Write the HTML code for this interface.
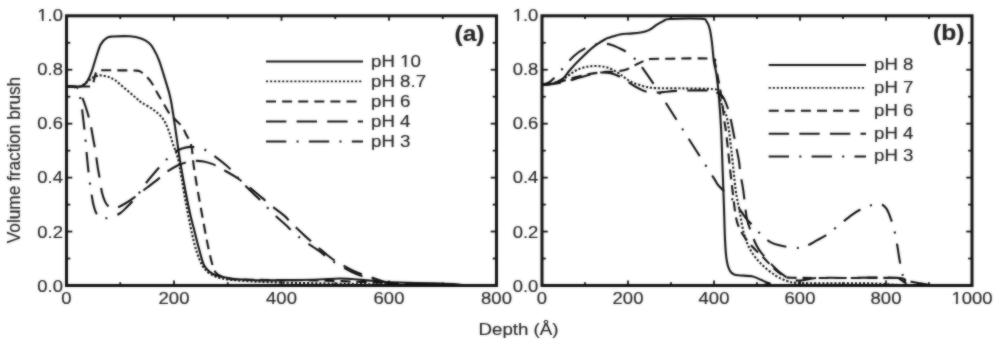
<!DOCTYPE html>
<html><head><meta charset="utf-8"><title>Volume fraction brush vs depth</title>
<style>
html,body{margin:0;padding:0;background:#fff;}
body{width:1000px;height:345px;overflow:hidden;font-family:"Liberation Sans",sans-serif;}
svg{display:block;}
</style></head><body><div id="w">
<svg width="1000" height="345" viewBox="0 0 1000 345" font-family="Liberation Sans, sans-serif"><defs><filter id="soft" x="0" y="0" width="1000" height="345" filterUnits="userSpaceOnUse" color-interpolation-filters="sRGB"><feGaussianBlur in="SourceGraphic" stdDeviation="1.00" result="b"/><feComposite in="SourceGraphic" in2="b" operator="arithmetic" k1="0" k2="0.45" k3="0.55" k4="0"/></filter><clipPath id="cl"><rect x="66.5" y="15.8" width="430" height="269.7"/></clipPath><clipPath id="cr"><rect x="542" y="15.8" width="430" height="269.7"/></clipPath></defs><g filter="url(#soft)"><rect x="0" y="0" width="1000" height="345" fill="#fff"/><g clip-path="url(#cl)" stroke-linecap="butt"><path id="l10" d="M66.50,86.46 C68.29,86.46 74.56,86.55 77.25,86.46 C79.94,86.37 80.97,86.78 82.62,85.92 C84.28,85.07 85.67,83.76 87.19,81.34 C88.72,78.91 90.19,75.63 91.76,71.36 C93.33,67.09 95.08,60.26 96.60,55.72 C98.12,51.18 99.20,47.09 100.90,44.12 C102.60,41.15 104.84,39.17 106.81,37.92 C108.78,36.66 108.87,36.84 112.72,36.57 C116.58,36.30 125.09,35.94 129.93,36.30 C134.76,36.66 138.61,37.65 141.75,38.72 C144.89,39.80 146.81,41.15 148.74,42.77 C150.66,44.39 151.60,45.56 153.31,48.43 C155.01,51.31 157.02,55.00 158.95,60.03 C160.88,65.07 162.89,72.03 164.86,78.64 C166.83,85.25 168.83,89.97 170.77,99.68 C172.72,109.39 175.00,126.83 176.53,136.90 C178.05,146.96 178.45,151.19 179.91,160.09 C181.37,168.99 183.59,181.31 185.29,190.30 C186.99,199.29 188.69,207.60 190.12,214.03 C191.56,220.46 192.45,223.24 193.89,228.86 C195.32,234.48 197.02,241.67 198.72,247.74 C200.43,253.81 201.77,260.91 204.10,265.27 C206.43,269.63 209.21,271.88 212.70,273.90 C216.19,275.93 220.14,276.47 225.06,277.41 C229.99,278.35 236.44,279.07 242.26,279.57 C248.09,280.06 251.67,280.29 260.00,280.38 C268.33,280.47 282.40,280.24 292.25,280.11 C302.10,279.97 311.06,279.84 319.12,279.57 C327.19,279.30 333.46,278.44 340.62,278.49 C347.79,278.53 354.96,279.30 362.12,279.84 C369.29,280.38 377.35,281.27 383.62,281.72 C389.90,282.17 391.69,282.26 399.75,282.53 C407.81,282.80 423.04,283.07 432.00,283.34 C440.96,283.61 447.23,283.79 453.50,284.15 C459.77,284.51 462.46,285.28 469.62,285.50 C476.79,285.72 492.02,285.50 496.50,285.50" fill="none" stroke="#111" stroke-width="2.10" /><path id="l87" d="M66.50,86.46 C68.74,86.46 76.35,87.36 79.94,86.46 C83.52,85.56 85.49,82.73 88.00,81.07 C90.51,79.40 92.84,77.43 94.99,76.48 C97.14,75.54 98.75,75.36 100.90,75.40 C103.05,75.45 105.56,75.99 107.89,76.75 C110.22,77.52 112.55,78.46 114.88,79.99 C117.20,81.52 119.35,83.81 121.86,85.92 C124.37,88.03 127.55,90.64 129.93,92.66 C132.30,94.69 134.14,96.40 136.11,98.06 C138.08,99.72 138.88,100.71 141.75,102.64 C144.62,104.58 149.83,107.05 153.31,109.66 C156.78,112.26 160.09,114.91 162.61,118.29 C165.12,121.66 166.69,125.61 168.41,129.88 C170.13,134.15 171.37,139.28 172.93,143.91 C174.48,148.54 176.33,152.04 177.76,157.66 C179.20,163.28 180.13,169.80 181.52,177.62 C182.92,185.44 184.38,195.15 186.15,204.59 C187.91,214.03 190.29,226.17 192.11,234.26 C193.94,242.35 195.29,247.74 197.11,253.14 C198.93,258.53 200.88,263.20 203.03,266.62 C205.18,270.04 207.15,271.75 210.01,273.63 C212.88,275.52 215.21,276.78 220.22,277.95 C225.24,279.12 230.08,279.88 240.11,280.65 C250.15,281.41 264.57,282.04 280.42,282.53 C296.28,283.03 318.95,283.30 335.25,283.61 C351.55,283.93 365.71,284.15 378.25,284.42 C390.79,284.69 390.79,285.05 410.50,285.23 C430.21,285.41 482.17,285.46 496.50,285.50" fill="none" stroke="#111" stroke-width="2.10" stroke-dasharray="2.1 1.95"/><path id="l6" d="M66.50,86.46 C68.74,86.46 76.00,86.46 79.94,86.46 C83.88,86.46 88.04,86.69 90.15,86.46 C92.26,86.24 91.90,86.33 92.57,85.11 C93.24,83.90 93.64,81.16 94.18,79.18 C94.72,77.20 95.12,74.68 95.79,73.25 C96.47,71.81 96.82,71.04 98.21,70.55 C99.60,70.05 98.21,70.28 104.12,70.28 C110.04,70.28 127.63,70.32 133.69,70.55 C139.74,70.77 138.16,70.46 140.46,71.63 C142.76,72.80 145.36,75.27 147.50,77.56 C149.64,79.85 151.58,82.64 153.31,85.38 C155.04,88.12 156.22,91.09 157.88,94.01 C159.53,96.93 161.28,99.59 163.25,102.91 C165.22,106.24 167.55,111.05 169.70,113.97 C171.85,116.89 174.04,118.29 176.15,120.44 C178.26,122.60 180.77,124.67 182.38,126.92 C184.00,129.16 184.67,131.68 185.82,133.93 C186.98,136.18 188.35,138.20 189.32,140.40 C190.29,142.60 191.05,144.27 191.63,147.14 C192.21,150.02 192.44,154.34 192.81,157.66 C193.19,160.99 193.10,161.80 193.89,167.10 C194.68,172.41 195.70,178.92 197.54,189.49 C199.39,200.05 203.06,220.32 204.96,230.48 C206.86,240.64 207.49,244.06 208.94,250.44 C210.39,256.82 212.14,264.73 213.67,268.78 C215.19,272.82 216.18,273.27 218.07,274.71 C219.97,276.15 221.39,276.60 225.06,277.41 C228.74,278.22 225.60,279.07 240.11,279.57 C254.62,280.06 293.77,280.06 312.14,280.38 C330.50,280.69 335.61,280.92 350.30,281.45 C364.99,281.99 386.67,282.98 400.29,283.61 C413.90,284.24 415.96,284.92 432.00,285.23 C448.04,285.54 485.75,285.46 496.50,285.50" fill="none" stroke="#111" stroke-width="2.10" stroke-dasharray="10 6.1" stroke-dashoffset="2.55"/><path id="l4" d="M66.50,86.46 C67.66,86.46 71.79,86.33 73.49,86.46 C75.19,86.60 75.73,86.55 76.71,87.27 C77.70,87.99 78.50,89.16 79.40,90.78 C80.30,92.39 81.03,94.28 82.09,96.98 C83.14,99.68 84.58,103.41 85.74,106.96 C86.91,110.51 88.16,114.82 89.08,118.29 C89.99,121.75 90.51,124.13 91.22,127.73 C91.94,131.32 92.66,135.91 93.38,139.86 C94.09,143.82 94.81,146.96 95.53,151.46 C96.24,155.95 96.92,162.02 97.67,166.83 C98.43,171.64 99.32,176.05 100.04,180.32 C100.76,184.59 101.11,188.86 101.97,192.45 C102.83,196.05 104.04,199.51 105.20,201.89 C106.36,204.28 107.71,205.71 108.96,206.75 C110.22,207.78 111.24,208.01 112.72,208.10 C114.21,208.19 115.73,208.10 117.88,207.29 C120.03,206.48 122.99,204.81 125.62,203.24 C128.26,201.67 131.00,199.78 133.69,197.85 C136.38,195.91 137.93,194.57 141.75,191.64 C145.57,188.72 152.55,183.51 156.58,180.32 C160.62,177.13 162.44,174.97 165.94,172.50 C169.43,170.02 173.96,167.24 177.55,165.48 C181.13,163.73 184.45,162.74 187.44,161.98 C190.43,161.21 192.81,160.99 195.50,160.90 C198.19,160.81 200.70,160.90 203.56,161.44 C206.43,161.98 209.65,162.88 212.70,164.13 C215.75,165.39 217.45,166.47 221.84,168.99 C226.23,171.51 232.32,174.43 239.04,179.24 C245.76,184.05 256.95,193.58 262.15,197.85 C267.35,202.12 266.54,201.89 270.21,204.86 C273.89,207.83 280.69,212.64 284.19,215.65 C287.68,218.66 287.68,219.51 291.17,222.93 C294.67,226.35 300.49,231.92 305.15,236.14 C309.81,240.37 315.45,245.13 319.12,248.28 C322.80,251.43 324.41,252.87 327.19,255.02 C329.96,257.18 331.49,258.62 335.79,261.23 C340.09,263.83 348.42,268.42 352.99,270.67 C357.56,272.91 358.27,272.96 363.20,274.71 C368.13,276.47 378.25,279.79 382.55,281.18 C386.85,282.58 386.13,282.49 389.00,283.07 C391.87,283.66 395.27,284.29 399.75,284.69 C404.23,285.10 399.75,285.37 415.88,285.50 C432.00,285.63 483.06,285.50 496.50,285.50" fill="none" stroke="#111" stroke-width="2.10" stroke-dasharray="20.4 10.2" stroke-dashoffset="8.00"/><path id="l3" d="M66.50,86.46 C67.49,86.46 70.98,86.28 72.41,86.46 C73.85,86.64 74.20,86.73 75.10,87.54 C76.00,88.35 76.94,89.56 77.79,91.32 C78.64,93.07 79.53,95.36 80.21,98.06 C80.88,100.76 81.33,104.13 81.82,107.50 C82.31,110.87 82.71,114.47 83.16,118.29 C83.61,122.11 84.08,126.38 84.51,130.42 C84.94,134.47 85.34,138.29 85.74,142.56 C86.15,146.83 86.50,151.55 86.92,156.04 C87.35,160.54 87.78,165.03 88.27,169.53 C88.76,174.02 89.34,178.97 89.88,183.01 C90.42,187.06 90.91,190.21 91.49,193.80 C92.08,197.40 92.61,201.44 93.38,204.59 C94.14,207.74 94.99,210.57 96.06,212.68 C97.14,214.79 98.48,216.32 99.82,217.27 C101.17,218.21 102.33,218.34 104.12,218.34 C105.92,218.34 107.98,218.07 110.57,217.27 C113.17,216.46 117.03,215.15 119.71,213.49 C122.40,211.83 124.37,209.58 126.70,207.29 C129.03,204.99 131.56,202.21 133.69,199.74 C135.82,197.26 137.43,195.24 139.49,192.45 C141.55,189.67 143.08,186.83 146.05,183.01 C149.02,179.19 154.11,173.26 157.34,169.53 C160.56,165.80 162.62,163.46 165.40,160.63 C168.18,157.80 171.22,154.56 174.00,152.54 C176.78,150.52 179.32,149.44 182.06,148.49 C184.80,147.55 187.04,146.83 190.45,146.87 C193.85,146.92 198.78,147.41 202.49,148.76 C206.20,150.11 208.61,152.09 212.70,154.97 C216.78,157.84 223.25,162.79 227.00,166.02 C230.74,169.26 232.80,171.78 235.17,174.38 C237.53,176.99 238.21,178.52 241.19,181.67 C244.16,184.81 249.52,189.89 253.01,193.26 C256.51,196.63 258.94,198.66 262.15,201.89 C265.36,205.13 268.40,208.91 272.25,212.68 C276.11,216.46 281.75,221.31 285.26,224.55 C288.77,227.78 290.37,229.49 293.32,232.10 C296.28,234.71 298.70,237.04 303.00,240.19 C307.30,243.34 315.09,248.10 319.12,250.98 C323.16,253.86 324.41,255.43 327.19,257.45 C329.96,259.47 331.49,260.60 335.79,263.11 C340.09,265.63 348.45,270.35 352.99,272.55 C357.53,274.76 359.37,275.16 363.04,276.33 C366.71,277.50 371.81,278.67 375.02,279.57 C378.24,280.47 379.83,281.05 382.33,281.72 C384.84,282.40 386.72,283.03 390.07,283.61 C393.43,284.20 397.24,284.92 402.44,285.23 C407.63,285.54 405.57,285.46 421.25,285.50 C436.93,285.54 483.96,285.50 496.50,285.50" fill="none" stroke="#111" stroke-width="2.10" stroke-dasharray="20.3 10.3 2 10.3" stroke-dashoffset="10.75"/></g><g clip-path="url(#cr)" stroke-linecap="butt"><path id="r8" d="M542.00,84.84 C543.08,84.80 546.46,84.84 548.45,84.57 C550.44,84.30 551.45,84.26 553.91,83.23 C556.37,82.19 560.53,80.57 563.20,78.37 C565.87,76.17 566.89,73.43 569.95,70.01 C573.01,66.59 577.69,61.69 581.56,57.87 C585.43,54.05 589.30,50.14 593.17,47.09 C597.04,44.03 601.98,41.15 604.78,39.53 C607.58,37.92 607.40,38.23 609.94,37.38 C612.48,36.52 616.63,35.04 620.00,34.41 C623.37,33.78 626.77,33.91 630.15,33.60 C633.53,33.29 637.26,33.06 640.30,32.52 C643.34,31.98 645.67,31.62 648.38,30.36 C651.10,29.11 654.07,26.54 656.60,24.97 C659.12,23.40 661.28,21.91 663.52,20.92 C665.75,19.94 663.68,19.40 670.01,19.04 C676.35,18.68 695.50,18.45 701.53,18.77 C707.56,19.08 704.86,19.26 706.22,20.92 C707.58,22.59 708.74,25.10 709.70,28.75 C710.66,32.39 711.28,37.29 711.98,42.77 C712.68,48.25 713.15,56.26 713.91,61.65 C714.68,67.04 715.75,69.29 716.58,75.13 C717.41,80.98 718.14,87.50 718.90,96.71 C719.67,105.92 720.56,118.29 721.18,130.42 C721.80,142.56 722.15,157.17 722.60,169.53 C723.05,181.89 723.49,192.90 723.89,204.59 C724.29,216.28 724.58,230.66 725.01,239.65 C725.44,248.64 725.72,253.50 726.47,258.53 C727.22,263.56 728.12,267.16 729.48,269.86 C730.84,272.55 730.91,273.63 734.64,274.71 C738.37,275.79 747.47,275.48 751.84,276.33 C756.21,277.18 757.93,278.67 760.87,279.84 C763.81,281.00 765.82,282.40 769.47,283.34 C773.12,284.29 749.04,285.14 782.80,285.50 C816.55,285.86 940.47,285.50 972.00,285.50" fill="none" stroke="#111" stroke-width="2.10" /><path id="r7" d="M542.00,84.84 C543.43,84.66 547.68,84.35 550.60,83.76 C553.52,83.18 556.56,82.69 559.50,81.34 C562.44,79.99 565.34,77.56 568.23,75.67 C571.12,73.79 573.46,71.54 576.83,70.01 C580.20,68.48 584.57,67.13 588.44,66.50 C592.31,65.87 596.68,66.01 600.05,66.23 C603.42,66.46 605.74,66.82 608.65,67.85 C611.56,68.89 615.00,70.91 617.51,72.44 C620.02,73.97 621.40,75.45 623.70,77.02 C626.00,78.60 628.01,80.35 631.31,81.88 C634.61,83.40 639.42,85.16 643.48,86.19 C647.54,87.23 648.96,87.72 655.69,88.08 C662.43,88.44 674.35,88.17 683.90,88.35 C693.45,88.53 707.56,88.62 713.01,89.16 C718.46,89.70 715.41,89.88 716.58,91.59 C717.75,93.29 718.87,96.40 720.02,99.41 C721.17,102.42 722.24,106.28 723.46,109.66 C724.68,113.03 725.97,112.53 727.33,119.63 C728.69,126.74 730.23,140.54 731.63,152.27 C733.03,164.00 734.35,180.09 735.72,190.03 C737.08,199.96 738.42,204.55 739.80,211.87 C741.18,219.20 742.18,227.51 744.01,233.99 C745.85,240.46 747.86,245.63 750.81,250.71 C753.76,255.79 757.62,260.33 761.73,264.46 C765.84,268.60 771.33,272.78 775.49,275.52 C779.65,278.26 783.30,279.70 786.67,280.92 C790.04,282.13 790.61,282.40 795.70,282.80 C800.79,283.21 805.02,283.25 817.20,283.34 C829.38,283.43 855.04,283.07 868.80,283.34 C882.56,283.61 891.16,284.60 899.76,284.96 C908.36,285.32 908.36,285.41 920.40,285.50 C932.44,285.59 963.40,285.50 972.00,285.50" fill="none" stroke="#111" stroke-width="2.10" stroke-dasharray="2.1 1.95"/><path id="r6" d="M542.00,84.84 C544.15,84.57 550.60,84.12 554.90,83.23 C559.20,82.33 562.78,80.84 567.80,79.45 C572.82,78.06 579.98,75.99 585.00,74.86 C590.02,73.74 594.32,73.20 597.90,72.71 C601.48,72.21 603.27,72.12 606.50,71.90 C609.73,71.67 613.70,71.85 617.25,71.36 C620.80,70.86 624.57,70.10 627.78,68.93 C631.00,67.76 633.90,65.65 636.51,64.35 C639.13,63.04 641.17,62.01 643.48,61.11 C645.79,60.21 645.77,59.36 650.36,58.95 C654.95,58.55 660.89,58.73 671.00,58.68 C681.11,58.64 703.68,57.96 710.99,58.68 C718.30,59.40 713.78,60.26 714.86,63.00 C715.94,65.74 716.58,70.86 717.44,75.13 C718.30,79.40 719.23,84.12 720.02,88.62 C720.81,93.11 721.42,96.58 722.17,102.10 C722.92,107.63 723.85,116.85 724.49,121.79 C725.13,126.74 725.34,126.47 726.00,131.77 C726.65,137.08 727.65,146.74 728.40,153.62 C729.16,160.49 729.81,166.74 730.51,173.04 C731.21,179.33 731.75,184.23 732.62,191.37 C733.49,198.52 734.66,209.89 735.72,215.92 C736.77,221.94 737.81,224.50 738.94,227.51 C740.07,230.53 740.53,231.07 742.51,233.99 C744.49,236.91 747.12,240.91 750.81,245.05 C754.49,249.18 760.71,254.84 764.61,258.80 C768.51,262.76 771.17,266.04 774.20,268.78 C777.23,271.52 779.93,273.77 782.80,275.25 C785.67,276.73 781.37,277.23 791.40,277.68 C801.43,278.13 825.80,277.90 843.00,277.95 C860.20,277.99 885.14,277.77 894.60,277.95 C904.06,278.13 897.97,278.22 899.76,279.03 C901.55,279.84 903.34,281.72 905.35,282.80 C907.36,283.88 900.69,285.05 911.80,285.50 C922.91,285.95 961.97,285.50 972.00,285.50" fill="none" stroke="#111" stroke-width="2.10" stroke-dasharray="10 6.1" stroke-dashoffset="1.55"/><path id="r4" d="M542.00,84.84 C544.15,84.66 550.60,84.39 554.90,83.76 C559.20,83.14 563.50,82.15 567.80,81.07 C572.10,79.99 576.40,78.51 580.70,77.29 C585.00,76.08 590.02,74.59 593.60,73.79 C597.18,72.98 599.33,72.53 602.20,72.44 C605.07,72.35 607.93,72.57 610.80,73.25 C613.67,73.92 616.53,75.04 619.40,76.48 C622.27,77.92 625.13,80.08 628.00,81.88 C630.87,83.67 633.73,85.70 636.60,87.27 C639.47,88.84 642.33,90.42 645.20,91.32 C648.07,92.22 650.93,92.53 653.80,92.66 C656.67,92.80 658.10,92.44 662.40,92.13 C666.70,91.81 672.00,91.05 679.60,90.78 C687.20,90.51 701.82,90.28 707.98,90.51 C714.14,90.73 714.18,91.18 716.58,92.13 C718.98,93.07 720.66,93.92 722.38,96.17 C724.11,98.42 725.57,102.06 726.90,105.61 C728.23,109.16 729.29,113.12 730.34,117.48 C731.39,121.84 732.36,127.46 733.22,131.77 C734.08,136.09 734.55,138.51 735.50,143.37 C736.45,148.22 738.12,155.82 738.94,160.90 C739.76,165.98 739.69,168.99 740.40,173.84 C741.12,178.70 742.19,182.74 743.24,190.03 C744.29,197.31 745.42,210.66 746.68,217.54 C747.94,224.41 749.20,226.71 750.81,231.29 C752.41,235.88 754.49,241.36 756.31,245.05 C758.13,248.73 758.75,249.72 761.73,253.41 C764.71,257.09 770.69,263.61 774.20,267.16 C777.71,270.71 780.17,272.78 782.80,274.71 C785.43,276.64 787.11,277.77 789.98,278.76 C792.85,279.75 795.46,280.78 800.00,280.65 C804.54,280.51 810.03,278.40 817.20,277.95 C824.37,277.50 829.38,277.95 843.00,277.95 C856.62,277.95 888.51,277.14 898.90,277.95 C909.29,278.76 903.20,281.54 905.35,282.80 C907.50,284.06 900.69,285.05 911.80,285.50 C922.91,285.95 961.97,285.50 972.00,285.50" fill="none" stroke="#111" stroke-width="2.10" stroke-dasharray="20.4 10.2" stroke-dashoffset="1.50"/><path id="r3" d="M542.00,84.84 C543.08,84.48 546.30,83.94 548.45,82.69 C550.60,81.43 552.39,79.81 554.90,77.29 C557.41,74.77 560.27,71.18 563.50,67.58 C566.73,63.99 570.67,58.91 574.25,55.72 C577.83,52.52 581.42,50.32 585.00,48.43 C588.58,46.55 592.88,45.20 595.75,44.39 C598.62,43.58 599.69,43.53 602.20,43.58 C604.71,43.62 607.86,43.85 610.80,44.66 C613.74,45.47 616.96,47.04 619.83,48.43 C622.70,49.83 625.21,51.00 628.00,53.02 C630.79,55.04 634.16,58.05 636.60,60.57 C639.04,63.09 639.75,64.17 642.62,68.12 C645.49,72.08 649.79,78.28 653.80,84.30 C657.81,90.33 662.19,97.20 666.70,104.26 C671.22,111.32 675.87,118.78 680.89,126.65 C685.91,134.51 691.28,142.83 696.80,151.46 C702.32,160.09 710.27,172.63 714.00,178.43 C717.73,184.23 715.93,182.56 719.16,186.25 C722.38,189.94 728.91,195.24 733.35,200.54 C737.79,205.85 742.38,213.71 745.82,218.07 C749.26,222.44 751.27,223.74 753.99,226.71 C756.71,229.67 759.51,233.36 762.16,235.88 C764.81,238.39 767.03,240.24 769.90,241.81 C772.77,243.38 775.20,244.33 779.36,245.31 C783.52,246.30 790.68,247.47 794.84,247.74 C799.00,248.01 800.57,248.19 804.30,246.93 C808.03,245.67 813.33,242.30 817.20,240.19 C821.07,238.08 824.44,236.32 827.52,234.26 C830.60,232.19 831.68,230.98 835.69,227.78 C839.70,224.59 847.37,218.21 851.60,215.11 C855.83,212.01 857.91,210.79 861.06,209.17 C864.21,207.56 867.37,206.30 870.52,205.40 C873.67,204.50 877.33,203.24 879.98,203.78 C882.63,204.32 884.57,205.98 886.43,208.64 C888.29,211.29 889.80,215.87 891.16,219.69 C892.52,223.51 893.60,227.33 894.60,231.56 C895.60,235.79 896.39,240.55 897.18,245.05 C897.97,249.54 898.54,254.03 899.33,258.53 C900.12,263.02 901.12,268.73 901.91,272.01 C902.70,275.30 903.13,276.78 904.06,278.22 C904.99,279.66 905.85,279.97 907.50,280.65 C909.15,281.32 911.80,281.81 913.95,282.26 C916.10,282.71 918.03,282.94 920.40,283.34 C922.76,283.75 925.63,284.33 928.14,284.69 C930.65,285.05 928.14,285.37 935.45,285.50 C942.76,285.63 965.91,285.50 972.00,285.50" fill="none" stroke="#111" stroke-width="2.10" stroke-dasharray="20.3 10.3 2 10.3" stroke-dashoffset="5.60"/></g><rect x="66.50" y="15.80" width="430.00" height="269.70" fill="none" stroke="#111" stroke-width="3.0"/><line x1="120.25" y1="285.50" x2="120.25" y2="282.30" stroke="#111" stroke-width="1.8"/><line x1="120.25" y1="15.80" x2="120.25" y2="19.00" stroke="#111" stroke-width="1.8"/><line x1="174.00" y1="285.50" x2="174.00" y2="280.50" stroke="#111" stroke-width="1.8"/><line x1="174.00" y1="15.80" x2="174.00" y2="20.80" stroke="#111" stroke-width="1.8"/><line x1="227.75" y1="285.50" x2="227.75" y2="282.30" stroke="#111" stroke-width="1.8"/><line x1="227.75" y1="15.80" x2="227.75" y2="19.00" stroke="#111" stroke-width="1.8"/><line x1="281.50" y1="285.50" x2="281.50" y2="280.50" stroke="#111" stroke-width="1.8"/><line x1="281.50" y1="15.80" x2="281.50" y2="20.80" stroke="#111" stroke-width="1.8"/><line x1="335.25" y1="285.50" x2="335.25" y2="282.30" stroke="#111" stroke-width="1.8"/><line x1="335.25" y1="15.80" x2="335.25" y2="19.00" stroke="#111" stroke-width="1.8"/><line x1="389.00" y1="285.50" x2="389.00" y2="280.50" stroke="#111" stroke-width="1.8"/><line x1="389.00" y1="15.80" x2="389.00" y2="20.80" stroke="#111" stroke-width="1.8"/><line x1="442.75" y1="285.50" x2="442.75" y2="282.30" stroke="#111" stroke-width="1.8"/><line x1="442.75" y1="15.80" x2="442.75" y2="19.00" stroke="#111" stroke-width="1.8"/><line x1="66.50" y1="258.53" x2="70.30" y2="258.53" stroke="#111" stroke-width="1.8"/><line x1="496.50" y1="258.53" x2="492.70" y2="258.53" stroke="#111" stroke-width="1.8"/><line x1="66.50" y1="231.56" x2="72.30" y2="231.56" stroke="#111" stroke-width="1.8"/><line x1="496.50" y1="231.56" x2="490.70" y2="231.56" stroke="#111" stroke-width="1.8"/><line x1="66.50" y1="204.59" x2="70.30" y2="204.59" stroke="#111" stroke-width="1.8"/><line x1="496.50" y1="204.59" x2="492.70" y2="204.59" stroke="#111" stroke-width="1.8"/><line x1="66.50" y1="177.62" x2="72.30" y2="177.62" stroke="#111" stroke-width="1.8"/><line x1="496.50" y1="177.62" x2="490.70" y2="177.62" stroke="#111" stroke-width="1.8"/><line x1="66.50" y1="150.65" x2="70.30" y2="150.65" stroke="#111" stroke-width="1.8"/><line x1="496.50" y1="150.65" x2="492.70" y2="150.65" stroke="#111" stroke-width="1.8"/><line x1="66.50" y1="123.68" x2="72.30" y2="123.68" stroke="#111" stroke-width="1.8"/><line x1="496.50" y1="123.68" x2="490.70" y2="123.68" stroke="#111" stroke-width="1.8"/><line x1="66.50" y1="96.71" x2="70.30" y2="96.71" stroke="#111" stroke-width="1.8"/><line x1="496.50" y1="96.71" x2="492.70" y2="96.71" stroke="#111" stroke-width="1.8"/><line x1="66.50" y1="69.74" x2="72.30" y2="69.74" stroke="#111" stroke-width="1.8"/><line x1="496.50" y1="69.74" x2="490.70" y2="69.74" stroke="#111" stroke-width="1.8"/><line x1="66.50" y1="42.77" x2="70.30" y2="42.77" stroke="#111" stroke-width="1.8"/><line x1="496.50" y1="42.77" x2="492.70" y2="42.77" stroke="#111" stroke-width="1.8"/><rect x="542.00" y="15.80" width="430.00" height="269.70" fill="none" stroke="#111" stroke-width="3.0"/><line x1="585.00" y1="285.50" x2="585.00" y2="282.30" stroke="#111" stroke-width="1.8"/><line x1="585.00" y1="15.80" x2="585.00" y2="19.00" stroke="#111" stroke-width="1.8"/><line x1="628.00" y1="285.50" x2="628.00" y2="280.50" stroke="#111" stroke-width="1.8"/><line x1="628.00" y1="15.80" x2="628.00" y2="20.80" stroke="#111" stroke-width="1.8"/><line x1="671.00" y1="285.50" x2="671.00" y2="282.30" stroke="#111" stroke-width="1.8"/><line x1="671.00" y1="15.80" x2="671.00" y2="19.00" stroke="#111" stroke-width="1.8"/><line x1="714.00" y1="285.50" x2="714.00" y2="280.50" stroke="#111" stroke-width="1.8"/><line x1="714.00" y1="15.80" x2="714.00" y2="20.80" stroke="#111" stroke-width="1.8"/><line x1="757.00" y1="285.50" x2="757.00" y2="282.30" stroke="#111" stroke-width="1.8"/><line x1="757.00" y1="15.80" x2="757.00" y2="19.00" stroke="#111" stroke-width="1.8"/><line x1="800.00" y1="285.50" x2="800.00" y2="280.50" stroke="#111" stroke-width="1.8"/><line x1="800.00" y1="15.80" x2="800.00" y2="20.80" stroke="#111" stroke-width="1.8"/><line x1="843.00" y1="285.50" x2="843.00" y2="282.30" stroke="#111" stroke-width="1.8"/><line x1="843.00" y1="15.80" x2="843.00" y2="19.00" stroke="#111" stroke-width="1.8"/><line x1="886.00" y1="285.50" x2="886.00" y2="280.50" stroke="#111" stroke-width="1.8"/><line x1="886.00" y1="15.80" x2="886.00" y2="20.80" stroke="#111" stroke-width="1.8"/><line x1="929.00" y1="285.50" x2="929.00" y2="282.30" stroke="#111" stroke-width="1.8"/><line x1="929.00" y1="15.80" x2="929.00" y2="19.00" stroke="#111" stroke-width="1.8"/><line x1="542.00" y1="258.53" x2="545.80" y2="258.53" stroke="#111" stroke-width="1.8"/><line x1="972.00" y1="258.53" x2="968.20" y2="258.53" stroke="#111" stroke-width="1.8"/><line x1="542.00" y1="231.56" x2="547.80" y2="231.56" stroke="#111" stroke-width="1.8"/><line x1="972.00" y1="231.56" x2="966.20" y2="231.56" stroke="#111" stroke-width="1.8"/><line x1="542.00" y1="204.59" x2="545.80" y2="204.59" stroke="#111" stroke-width="1.8"/><line x1="972.00" y1="204.59" x2="968.20" y2="204.59" stroke="#111" stroke-width="1.8"/><line x1="542.00" y1="177.62" x2="547.80" y2="177.62" stroke="#111" stroke-width="1.8"/><line x1="972.00" y1="177.62" x2="966.20" y2="177.62" stroke="#111" stroke-width="1.8"/><line x1="542.00" y1="150.65" x2="545.80" y2="150.65" stroke="#111" stroke-width="1.8"/><line x1="972.00" y1="150.65" x2="968.20" y2="150.65" stroke="#111" stroke-width="1.8"/><line x1="542.00" y1="123.68" x2="547.80" y2="123.68" stroke="#111" stroke-width="1.8"/><line x1="972.00" y1="123.68" x2="966.20" y2="123.68" stroke="#111" stroke-width="1.8"/><line x1="542.00" y1="96.71" x2="545.80" y2="96.71" stroke="#111" stroke-width="1.8"/><line x1="972.00" y1="96.71" x2="968.20" y2="96.71" stroke="#111" stroke-width="1.8"/><line x1="542.00" y1="69.74" x2="547.80" y2="69.74" stroke="#111" stroke-width="1.8"/><line x1="972.00" y1="69.74" x2="966.20" y2="69.74" stroke="#111" stroke-width="1.8"/><line x1="542.00" y1="42.77" x2="545.80" y2="42.77" stroke="#111" stroke-width="1.8"/><line x1="972.00" y1="42.77" x2="968.20" y2="42.77" stroke="#111" stroke-width="1.8"/><g fill="#222" stroke="#222" stroke-width="0.15"><text transform="translate(63.00,291.75) scale(1.120,1)" text-anchor="end" font-size="16.5" >0.0</text><text transform="translate(538.30,291.75) scale(1.120,1)" text-anchor="end" font-size="16.5" >0.0</text><text transform="translate(63.00,237.53) scale(1.120,1)" text-anchor="end" font-size="16.5" >0.2</text><text transform="translate(538.30,237.53) scale(1.120,1)" text-anchor="end" font-size="16.5" >0.2</text><text transform="translate(63.00,183.31) scale(1.120,1)" text-anchor="end" font-size="16.5" >0.4</text><text transform="translate(538.30,183.31) scale(1.120,1)" text-anchor="end" font-size="16.5" >0.4</text><text transform="translate(63.00,129.09) scale(1.120,1)" text-anchor="end" font-size="16.5" >0.6</text><text transform="translate(538.30,129.09) scale(1.120,1)" text-anchor="end" font-size="16.5" >0.6</text><text transform="translate(63.00,74.87) scale(1.120,1)" text-anchor="end" font-size="16.5" >0.8</text><text transform="translate(538.30,74.87) scale(1.120,1)" text-anchor="end" font-size="16.5" >0.8</text><text transform="translate(63.00,20.65) scale(1.120,1)" text-anchor="end" font-size="16.5" >1.0</text><text transform="translate(538.30,20.65) scale(1.120,1)" text-anchor="end" font-size="16.5" >1.0</text><g transform="translate(63.00,20.65) scale(1.120,1)" fill="#fff" stroke="none"><rect x="-22.03" y="-1.73" width="3.18" height="2.15"/><rect x="-17.31" y="-1.73" width="2.97" height="2.15"/></g><g transform="translate(538.30,20.65) scale(1.120,1)" fill="#fff" stroke="none"><rect x="-22.03" y="-1.73" width="3.18" height="2.15"/><rect x="-17.31" y="-1.73" width="2.97" height="2.15"/></g><text transform="translate(66.50,304.00) scale(1.120,1)" text-anchor="middle" font-size="16.5" >0</text><text transform="translate(174.00,304.00) scale(1.120,1)" text-anchor="middle" font-size="16.5" >200</text><text transform="translate(281.50,304.00) scale(1.120,1)" text-anchor="middle" font-size="16.5" >400</text><text transform="translate(389.00,304.00) scale(1.120,1)" text-anchor="middle" font-size="16.5" >600</text><text transform="translate(496.50,304.00) scale(1.120,1)" text-anchor="middle" font-size="16.5" >800</text><text transform="translate(542.00,304.00) scale(1.120,1)" text-anchor="middle" font-size="16.5" >0</text><text transform="translate(628.00,304.00) scale(1.120,1)" text-anchor="middle" font-size="16.5" >200</text><text transform="translate(714.00,304.00) scale(1.120,1)" text-anchor="middle" font-size="16.5" >400</text><text transform="translate(800.00,304.00) scale(1.120,1)" text-anchor="middle" font-size="16.5" >600</text><text transform="translate(886.00,304.00) scale(1.120,1)" text-anchor="middle" font-size="16.5" >800</text><text transform="translate(972.00,304.00) scale(1.120,1)" text-anchor="middle" font-size="16.5" >1000</text><g transform="translate(972.00,304.00) scale(1.120,1)" fill="#fff" stroke="none"><rect x="-17.44" y="-1.73" width="3.18" height="2.15"/><rect x="-12.72" y="-1.73" width="2.97" height="2.15"/></g><text transform="translate(518.50,335.30) scale(1.100,1)" text-anchor="middle" font-size="17.0" >Depth (&#197;)</text><text transform="translate(20.3,160.0) scale(1.06,1) rotate(-90)" text-anchor="middle" font-size="17.2">Volume fraction brush</text><text transform="translate(469.50,41.20) scale(1.120,1)" text-anchor="middle" font-size="22.0" font-weight="bold" stroke-width="0.15">(a)</text><text transform="translate(948.70,39.80) scale(1.120,1)" text-anchor="middle" font-size="22.0" font-weight="bold" stroke-width="0.15">(b)</text></g><line x1="266.00" y1="61.50" x2="363.00" y2="61.50" stroke="#111" stroke-width="2.00" /><text transform="translate(371.00,67.00) scale(1.100,1)" font-size="17.0" fill="#222" stroke="#222" stroke-width="0.15">pH 10</text><line x1="266.00" y1="81.30" x2="363.00" y2="81.30" stroke="#111" stroke-width="1.80" stroke-dasharray="2.1 1.95"/><text transform="translate(371.00,86.80) scale(1.100,1)" font-size="17.0" fill="#222" stroke="#222" stroke-width="0.15">pH 8.7</text><line x1="266.00" y1="101.50" x2="362.00" y2="101.50" stroke="#111" stroke-width="2.00" stroke-dasharray="10 6.1"/><text transform="translate(371.00,107.00) scale(1.100,1)" font-size="17.0" fill="#222" stroke="#222" stroke-width="0.15">pH 6</text><line x1="266.00" y1="121.50" x2="363.00" y2="121.50" stroke="#111" stroke-width="2.00" stroke-dasharray="20.4 10.2"/><text transform="translate(371.00,127.00) scale(1.100,1)" font-size="17.0" fill="#222" stroke="#222" stroke-width="0.15">pH 4</text><line x1="266.00" y1="141.50" x2="363.00" y2="141.50" stroke="#111" stroke-width="2.00" stroke-dasharray="20.3 10.3 2 10.3"/><text transform="translate(371.00,147.00) scale(1.100,1)" font-size="17.0" fill="#222" stroke="#222" stroke-width="0.15">pH 3</text><g transform="translate(371.00,67.00) scale(1.100,1)" fill="#fff" stroke="none"><rect x="27.39" y="-1.78" width="3.28" height="2.21"/><rect x="32.25" y="-1.78" width="3.06" height="2.21"/></g><line x1="768.70" y1="65.00" x2="866.00" y2="65.00" stroke="#111" stroke-width="2.00" /><text transform="translate(874.00,69.80) scale(1.100,1)" font-size="17.0" fill="#222" stroke="#222" stroke-width="0.15">pH 8</text><line x1="768.70" y1="87.80" x2="866.00" y2="87.80" stroke="#111" stroke-width="1.80" stroke-dasharray="2.1 1.95"/><text transform="translate(874.00,92.60) scale(1.100,1)" font-size="17.0" fill="#222" stroke="#222" stroke-width="0.15">pH 7</text><line x1="768.70" y1="110.70" x2="864.70" y2="110.70" stroke="#111" stroke-width="2.00" stroke-dasharray="10 6.1"/><text transform="translate(874.00,115.50) scale(1.100,1)" font-size="17.0" fill="#222" stroke="#222" stroke-width="0.15">pH 6</text><line x1="768.70" y1="133.70" x2="866.00" y2="133.70" stroke="#111" stroke-width="2.00" stroke-dasharray="20.4 10.2"/><text transform="translate(874.00,138.50) scale(1.100,1)" font-size="17.0" fill="#222" stroke="#222" stroke-width="0.15">pH 4</text><line x1="768.70" y1="156.60" x2="866.00" y2="156.60" stroke="#111" stroke-width="2.00" stroke-dasharray="20.3 10.3 2 10.3"/><text transform="translate(874.00,161.40) scale(1.100,1)" font-size="17.0" fill="#222" stroke="#222" stroke-width="0.15">pH 3</text></g></svg>
</div></body></html>
